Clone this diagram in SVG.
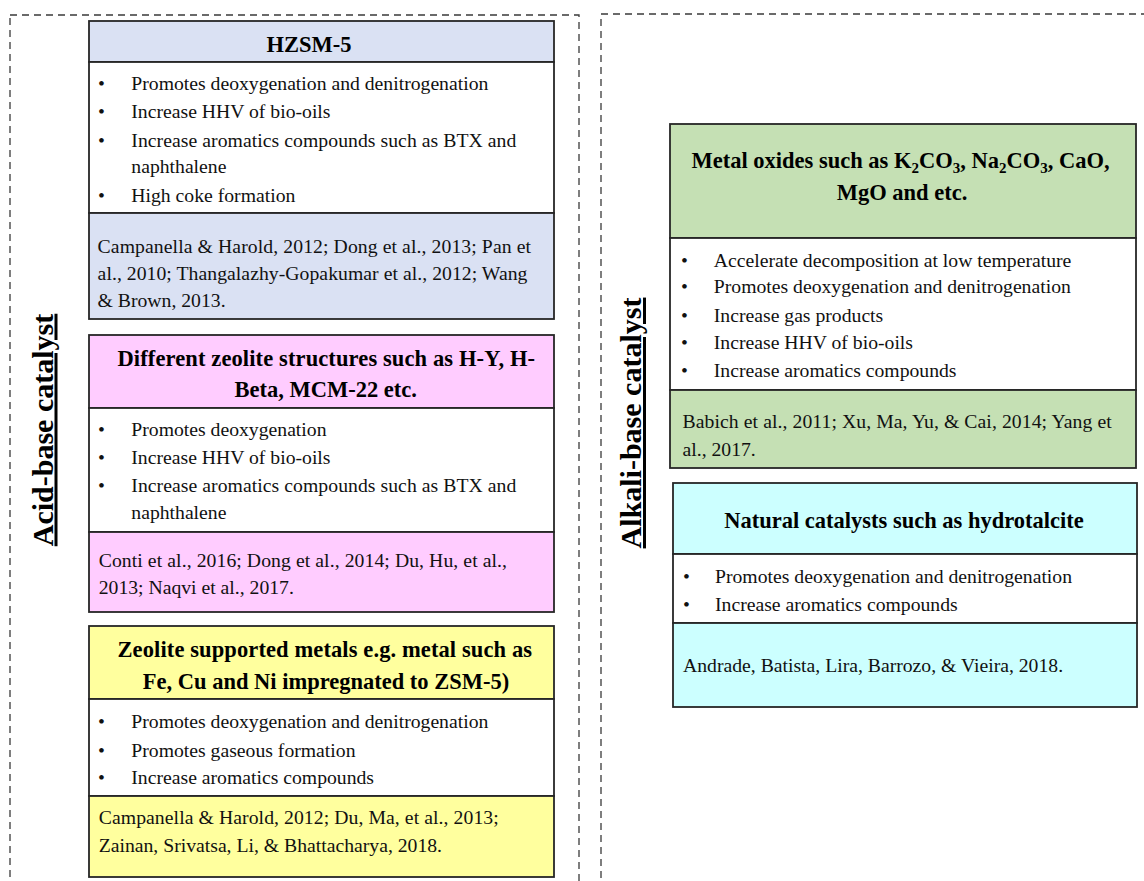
<svg xmlns="http://www.w3.org/2000/svg" width="1144" height="881" viewBox="0 0 1144 881">
  <style>
    .panel { fill: none; stroke: #3a3a3a; stroke-width: 1.3; stroke-dasharray: 7 5; }
    .box { stroke: #262626; stroke-width: 1.8; }
    .hd { font-family: "Liberation Serif", "Times New Roman", serif; font-weight: bold; font-size: 22.5px; fill: #000; }
    .tx { font-family: "Liberation Serif", "Times New Roman", serif; font-size: 19.7px; fill: #111; }
    .sub { font-size: 15px; }
    .side { font-family: "Liberation Serif", "Times New Roman", serif; font-weight: bold; font-size: 30px; fill: #000; text-decoration: underline; }
    .mid { text-anchor: middle; }
  </style>

  <rect width="1144" height="881" fill="#ffffff"/>

  <!-- dashed group frames -->
  <g id="acid-panel">
    <rect class="panel" x="10" y="15" width="569" height="900"/>
    <text class="side mid" transform="translate(52.5,430) rotate(-90)">Acid-base catalyst</text>
  </g>
  <g id="alkali-panel">
    <rect class="panel" x="601" y="14" width="600" height="900"/>
    <text class="side mid" transform="translate(641,423) rotate(-90)">Alkali-base catalyst</text>
  </g>

  <!-- HZSM-5 -->
  <g id="hzsm5">
    <rect class="box" x="89" y="21" width="465" height="41" fill="#DAE1F3"/>
    <rect class="box" x="89" y="62" width="465" height="151" fill="#FFFFFF"/>
    <rect class="box" x="89" y="213" width="465" height="106" fill="#DAE1F3"/>
    <text class="hd mid" x="309" y="52.3">HZSM-5</text>
    <g class="tx">
      <text x="98" y="90.3">•</text>
      <text x="131.3" y="90.3">Promotes deoxygenation and denitrogenation</text>
      <text x="98" y="118.3">•</text>
      <text x="131.3" y="118.3">Increase HHV of bio-oils</text>
      <text x="98" y="146.7">•</text>
      <text x="131.3" y="146.7" textLength="385" lengthAdjust="spacing">Increase aromatics compounds such as BTX and</text>
      <text x="131.3" y="173.3">naphthalene</text>
      <text x="98" y="201.7">•</text>
      <text x="131.3" y="201.7">High coke formation</text>
      <text x="97.6" y="252.7" textLength="433.4" lengthAdjust="spacing">Campanella &amp; Harold, 2012; Dong et al., 2013; Pan et</text>
      <text x="97.6" y="280" textLength="429.8" lengthAdjust="spacing">al., 2010; Thangalazhy-Gopakumar et al., 2012; Wang</text>
      <text x="97.6" y="307.3">&amp; Brown, 2013.</text>
    </g>
  </g>

  <!-- zeolite structures -->
  <g id="zeolite-structures">
    <rect class="box" x="89" y="335" width="465" height="73" fill="#FFCCFF"/>
    <rect class="box" x="89" y="408" width="465" height="124" fill="#FFFFFF"/>
    <rect class="box" x="89" y="532" width="465" height="80" fill="#FFCCFF"/>
    <text class="hd" x="117.5" y="365.7" textLength="417.5" lengthAdjust="spacing">Different zeolite structures such as H-Y, H-</text>
    <text class="hd mid" x="325.7" y="396.7">Beta, MCM-22 etc.</text>
    <g class="tx">
      <text x="98" y="436">•</text>
      <text x="131.3" y="436">Promotes deoxygenation</text>
      <text x="98" y="464">•</text>
      <text x="131.3" y="464">Increase HHV of bio-oils</text>
      <text x="98" y="491.7">•</text>
      <text x="131.3" y="491.7" textLength="385" lengthAdjust="spacing">Increase aromatics compounds such as BTX and</text>
      <text x="131.3" y="519">naphthalene</text>
      <text x="98.7" y="566.7" textLength="408.3" lengthAdjust="spacing">Conti et al., 2016; Dong et al., 2014; Du, Hu, et al.,</text>
      <text x="98.7" y="594">2013; Naqvi et al., 2017.</text>
    </g>
  </g>

  <!-- zeolite supported metals -->
  <g id="zeolite-metals">
    <rect class="box" x="89" y="626" width="465" height="73" fill="#FFFF9E"/>
    <rect class="box" x="89" y="699" width="465" height="97" fill="#FFFFFF"/>
    <rect class="box" x="89" y="796" width="465" height="81" fill="#FFFF9E"/>
    <text class="hd" x="117.5" y="656.7" textLength="414.5" lengthAdjust="spacing">Zeolite supported metals e.g. metal such as</text>
    <text class="hd mid" x="326" y="689.3">Fe, Cu and Ni impregnated to ZSM-5)</text>
    <g class="tx">
      <text x="98" y="728.3">•</text>
      <text x="131.3" y="728.3">Promotes deoxygenation and denitrogenation</text>
      <text x="98" y="756.7">•</text>
      <text x="131.3" y="756.7">Promotes gaseous formation</text>
      <text x="98" y="784">•</text>
      <text x="131.3" y="784">Increase aromatics compounds</text>
      <text x="98.7" y="824" textLength="400" lengthAdjust="spacing">Campanella &amp; Harold, 2012; Du, Ma, et al., 2013;</text>
      <text x="98.7" y="852.3">Zainan, Srivatsa, Li, &amp; Bhattacharya, 2018.</text>
    </g>
  </g>

  <!-- metal oxides -->
  <g id="metal-oxides">
    <rect class="box" x="670" y="124" width="466" height="114" fill="#C5E0B4"/>
    <rect class="box" x="670" y="238" width="466" height="152" fill="#FFFFFF"/>
    <rect class="box" x="670" y="390" width="466" height="78" fill="#C5E0B4"/>
    <text class="hd" x="691.5" y="168.3">Metal oxides such as K<tspan class="sub" dy="5">2</tspan><tspan dy="-5">CO</tspan><tspan class="sub" dy="5">3</tspan><tspan dy="-5">, Na</tspan><tspan class="sub" dy="5">2</tspan><tspan dy="-5">CO</tspan><tspan class="sub" dy="5">3</tspan><tspan dy="-5">, CaO,</tspan></text>
    <text class="hd mid" x="902" y="200">MgO and etc.</text>
    <g class="tx">
      <text x="681" y="266.7">•</text>
      <text x="713.8" y="266.7">Accelerate decomposition at low temperature</text>
      <text x="681" y="293.3">•</text>
      <text x="713.8" y="293.3">Promotes deoxygenation and denitrogenation</text>
      <text x="681" y="321.7">•</text>
      <text x="713.8" y="321.7">Increase gas products</text>
      <text x="681" y="349">•</text>
      <text x="713.8" y="349">Increase HHV of bio-oils</text>
      <text x="681" y="376.7">•</text>
      <text x="713.8" y="376.7">Increase aromatics compounds</text>
      <text x="682.5" y="428.3" textLength="429.2" lengthAdjust="spacing">Babich et al., 2011; Xu, Ma, Yu, &amp; Cai, 2014; Yang et</text>
      <text x="682.5" y="455.7">al., 2017.</text>
    </g>
  </g>

  <!-- natural catalysts -->
  <g id="natural-catalysts">
    <rect class="box" x="673" y="483" width="464" height="71" fill="#CCFFFF"/>
    <rect class="box" x="673" y="554" width="464" height="69" fill="#FFFFFF"/>
    <rect class="box" x="673" y="623" width="464" height="84" fill="#CCFFFF"/>
    <text class="hd mid" x="904" y="528.3">Natural catalysts such as hydrotalcite</text>
    <g class="tx">
      <text x="683" y="583.3">•</text>
      <text x="715" y="583.3">Promotes deoxygenation and denitrogenation</text>
      <text x="683" y="610.7">•</text>
      <text x="715" y="610.7">Increase aromatics compounds</text>
      <text x="683" y="672.3">Andrade, Batista, Lira, Barrozo, &amp; Vieira, 2018.</text>
    </g>
  </g>
</svg>
